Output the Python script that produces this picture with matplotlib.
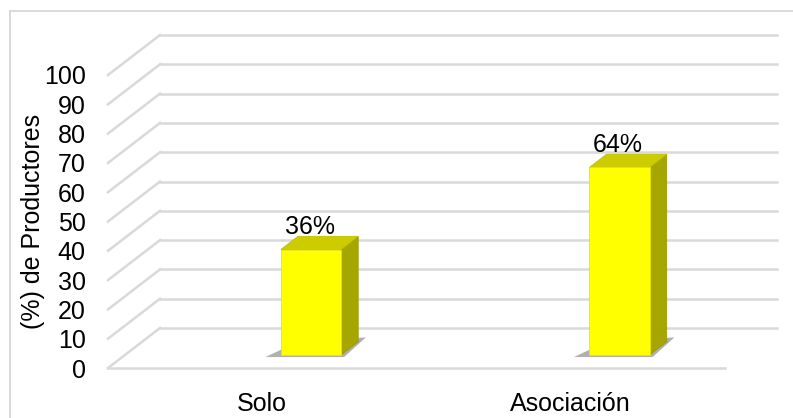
import numpy as np
import matplotlib
matplotlib.use("Agg")
import matplotlib.pyplot as plt
from matplotlib.patches import Polygon, Rectangle

plt.rcParams['font.family'] = ['Liberation Sans', 'DejaVu Sans']

categories = ['Solo', 'Asociación']
values = [36, 64]
yticks = list(range(0, 101, 10))

# oblique depth vector of the floor/back wall, in data units
DEPTH_X = 0.1686
DEPTH_Y = 13.65
bar_w = 0.195
bar_front = 0.325   # depth fraction of the bar's front face
bar_depth = 0.33    # depth fraction taken by the bar itself
bar_nudge = 0.103

grid_c = '#d9d9d9'

fig = plt.figure(figsize=(7.93, 4.18), dpi=100)
ax = fig.add_axes([108 / 793, 50 / 418, 617 / 793, 293 / 418])
ax.set_xlim(0, 2)
ax.set_ylim(0, 100)
for s in ax.spines.values():
    s.set_visible(False)
ax.patch.set_alpha(0)

# outer chart border
fig.patches.append(Rectangle((10 / 793, -0.05), 1.0, (418 - 11) / 418 + 0.05,
                             transform=fig.transFigure, fill=False,
                             edgecolor=grid_c, lw=1.4))

# back wall + side wall gridlines
for y in yticks:
    ax.plot([DEPTH_X, 2 + DEPTH_X], [y + DEPTH_Y, y + DEPTH_Y], color=grid_c,
            lw=1.8, clip_on=False, zorder=1)
    ax.plot([0, DEPTH_X], [y, y + DEPTH_Y], color=grid_c, lw=1.8,
            clip_on=False, zorder=1)
# floor front edge
ax.plot([0, 2], [0, 0], color=grid_c, lw=1.8, clip_on=False, zorder=1)

ddx = bar_depth * DEPTH_X
ddy = bar_depth * DEPTH_Y
for i, v in enumerate(values):
    cx = i + 0.5 + bar_nudge + bar_front * DEPTH_X
    xl, xr = cx - bar_w / 2, cx + bar_w / 2
    b = bar_front * DEPTH_Y
    t = b + v

    # soft shadow on the floor
    shadow = Polygon([(xl - 0.05, b - 0.7), (xr + 0.01, b - 0.7),
                      (xr + ddx + 0.025, b + ddy + 1.5), (xl + ddx, b + ddy)],
                     closed=True, facecolor='#6f6f6f', alpha=0.55,
                     edgecolor='none', zorder=2, clip_on=False)
    ax.add_patch(shadow)

    side = Polygon([(xr, b), (xr + ddx, b + ddy), (xr + ddx, t + ddy), (xr, t)],
                   closed=True, facecolor='#a6a600', edgecolor='#9a9a00',
                   lw=0.6, zorder=3, clip_on=False)
    top = Polygon([(xl, t), (xr, t), (xr + ddx, t + ddy), (xl + ddx, t + ddy)],
                  closed=True, facecolor='#cccc00', edgecolor='#c0c000',
                  lw=0.6, zorder=3, clip_on=False)
    front = Polygon([(xl, b), (xr, b), (xr, t), (xl, t)], closed=True,
                    facecolor='#ffff00', edgecolor='#e6e600', lw=0.6,
                    zorder=4, clip_on=False)
    ax.add_patch(side)
    ax.add_patch(top)
    ax.add_patch(front)

    ax.annotate(f'{v}%', xy=(cx, t), xytext=(-1, 11.5),
                textcoords='offset points', ha='center', va='baseline',
                fontsize=18, color='black', zorder=5, annotation_clip=False)

ax.set_yticks(yticks)
ax.set_xticks([0.5, 1.5])
ax.set_xticklabels(categories)
ax.tick_params(axis='both', length=0, labelsize=18, colors='black')
ax.tick_params(axis='y', pad=16)
ax.tick_params(axis='x', pad=17)
ax.set_ylabel('(%) de Productores', fontsize=18, labelpad=-1)

fig.savefig('out.png', dpi=100)
